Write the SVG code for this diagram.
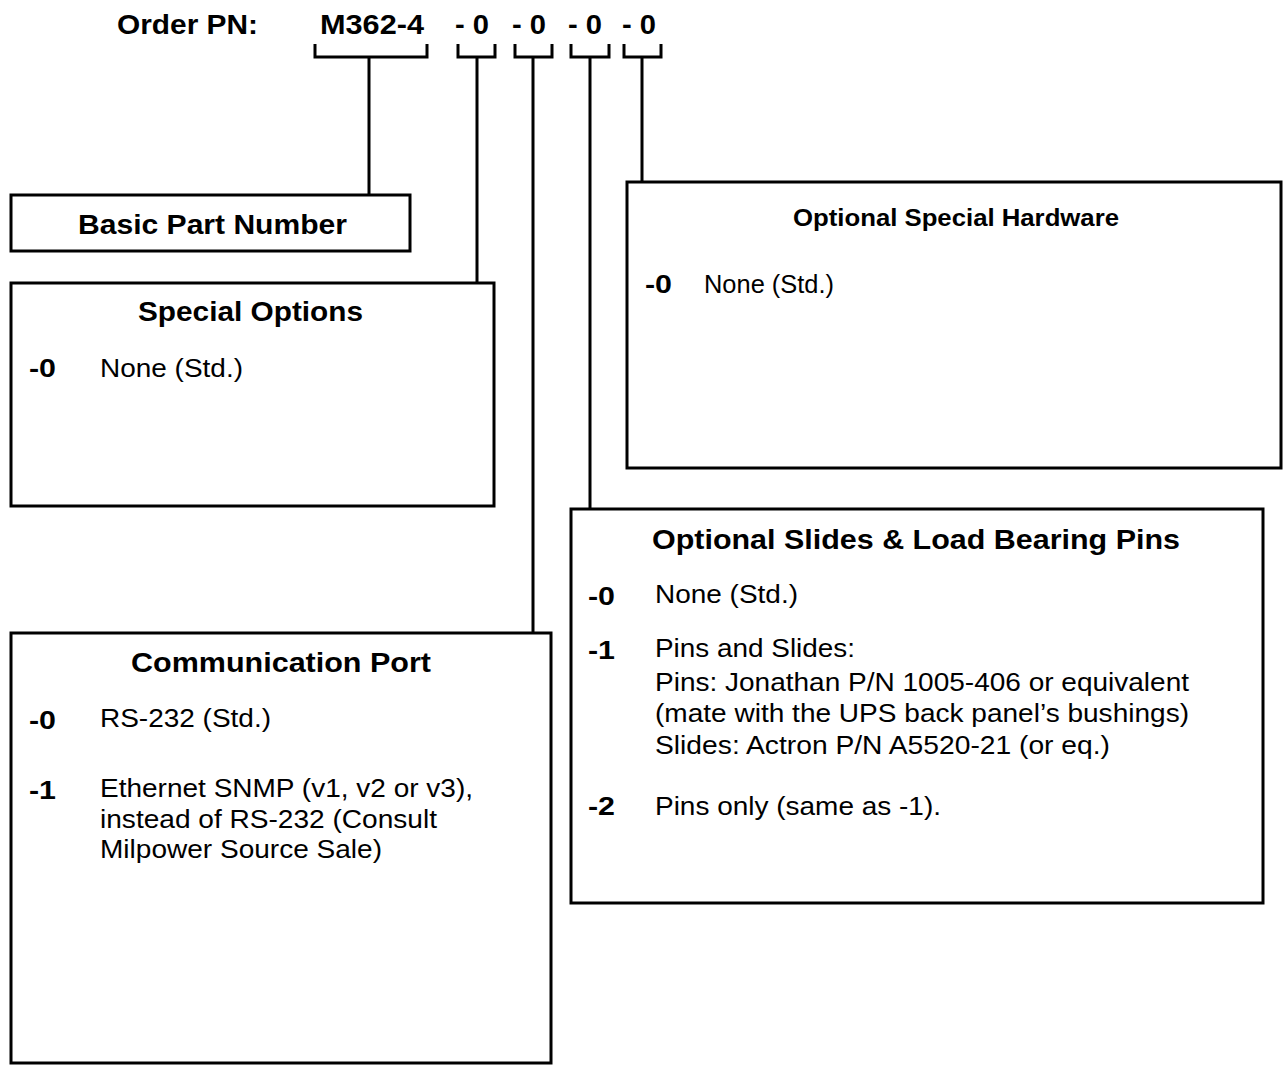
<svg xmlns="http://www.w3.org/2000/svg" width="1283" height="1065" viewBox="0 0 1283 1065">
<style>
text{font-family:"Liberation Sans",Arial,sans-serif;fill:#000}
.h{font-weight:bold;font-size:27px}
.t{font-weight:bold;font-size:27px}
.k{font-weight:bold;font-size:26px}
.b{font-size:25px}
.box{fill:#fff;stroke:#000;stroke-width:3}
.ln{fill:none;stroke:#000;stroke-width:3}
</style>
<rect width="1283" height="1065" fill="#fff"/>
<g id="header">
<text class="h" x="117" y="34" textLength="141" lengthAdjust="spacingAndGlyphs">Order PN:</text>
<text class="h" x="320" y="34" textLength="104" lengthAdjust="spacingAndGlyphs">M362-4</text>
<text class="h" x="455" y="34" textLength="34" lengthAdjust="spacingAndGlyphs">- 0</text>
<text class="h" x="512" y="34" textLength="34" lengthAdjust="spacingAndGlyphs">- 0</text>
<text class="h" x="568" y="34" textLength="34" lengthAdjust="spacingAndGlyphs">- 0</text>
<text class="h" x="622" y="34" textLength="34" lengthAdjust="spacingAndGlyphs">- 0</text>
</g>
<g id="connectors">
<path class="ln" d="M315 44V57H427V44M369 57V195"/>
<path class="ln" d="M458 44V57H495V44M477 57V283"/>
<path class="ln" d="M515 44V57H552V44M533 57V633"/>
<path class="ln" d="M571 44V57H609V44M590 57V509"/>
<path class="ln" d="M624 44V57H661V44M642 57V182"/>
</g>
<g id="basic">
<rect class="box" x="11" y="195" width="399" height="56"/>
<text class="t" x="78" y="234" textLength="269" lengthAdjust="spacingAndGlyphs">Basic Part Number</text>
</g>
<g id="special-options">
<rect class="box" x="11" y="283" width="483" height="223"/>
<text class="t" x="138" y="321" textLength="225" lengthAdjust="spacingAndGlyphs">Special Options</text>
<text class="k" x="29" y="377" textLength="27" lengthAdjust="spacingAndGlyphs">-0</text>
<text class="b" x="100" y="377" textLength="143" lengthAdjust="spacingAndGlyphs">None (Std.)</text>
</g>
<g id="special-hardware">
<rect class="box" x="627" y="182" width="654" height="286"/>
<text class="t" x="793" y="226" style="font-size:23px" textLength="326" lengthAdjust="spacingAndGlyphs">Optional Special Hardware</text>
<text class="k" x="645" y="293" textLength="27" lengthAdjust="spacingAndGlyphs">-0</text>
<text class="b" x="704" y="293" textLength="130" lengthAdjust="spacingAndGlyphs">None (Std.)</text>
</g>
<g id="slides">
<rect class="box" x="571" y="509" width="692" height="394"/>
<text class="t" x="652" y="549" textLength="528" lengthAdjust="spacingAndGlyphs">Optional Slides &amp; Load Bearing Pins</text>
<text class="k" x="588" y="605" textLength="27" lengthAdjust="spacingAndGlyphs">-0</text>
<text class="b" x="655" y="603" textLength="143" lengthAdjust="spacingAndGlyphs">None (Std.)</text>
<text class="k" x="588" y="659" textLength="27" lengthAdjust="spacingAndGlyphs">-1</text>
<text class="b" x="655" y="657" textLength="200" lengthAdjust="spacingAndGlyphs">Pins and Slides:</text>
<text class="b" x="655" y="691" textLength="534" lengthAdjust="spacingAndGlyphs">Pins: Jonathan P/N 1005-406 or equivalent</text>
<text class="b" x="655" y="722" textLength="534" lengthAdjust="spacingAndGlyphs">(mate with the UPS back panel’s bushings)</text>
<text class="b" x="655" y="754" textLength="455" lengthAdjust="spacingAndGlyphs">Slides: Actron P/N A5520-21 (or eq.)</text>
<text class="k" x="588" y="815" textLength="27" lengthAdjust="spacingAndGlyphs">-2</text>
<text class="b" x="655" y="815" textLength="286" lengthAdjust="spacingAndGlyphs">Pins only (same as -1).</text>
</g>
<g id="comm-port">
<rect class="box" x="11" y="633" width="540" height="430"/>
<text class="t" x="131" y="672" textLength="300" lengthAdjust="spacingAndGlyphs">Communication Port</text>
<text class="k" x="29" y="729" textLength="27" lengthAdjust="spacingAndGlyphs">-0</text>
<text class="b" x="100" y="727" textLength="171" lengthAdjust="spacingAndGlyphs">RS-232 (Std.)</text>
<text class="k" x="29" y="799" textLength="27" lengthAdjust="spacingAndGlyphs">-1</text>
<text class="b" x="100" y="797" textLength="373" lengthAdjust="spacingAndGlyphs">Ethernet SNMP (v1, v2 or v3),</text>
<text class="b" x="100" y="828" textLength="337" lengthAdjust="spacingAndGlyphs">instead of RS-232 (Consult</text>
<text class="b" x="100" y="858" textLength="282" lengthAdjust="spacingAndGlyphs">Milpower Source Sale)</text>
</g>
</svg>
